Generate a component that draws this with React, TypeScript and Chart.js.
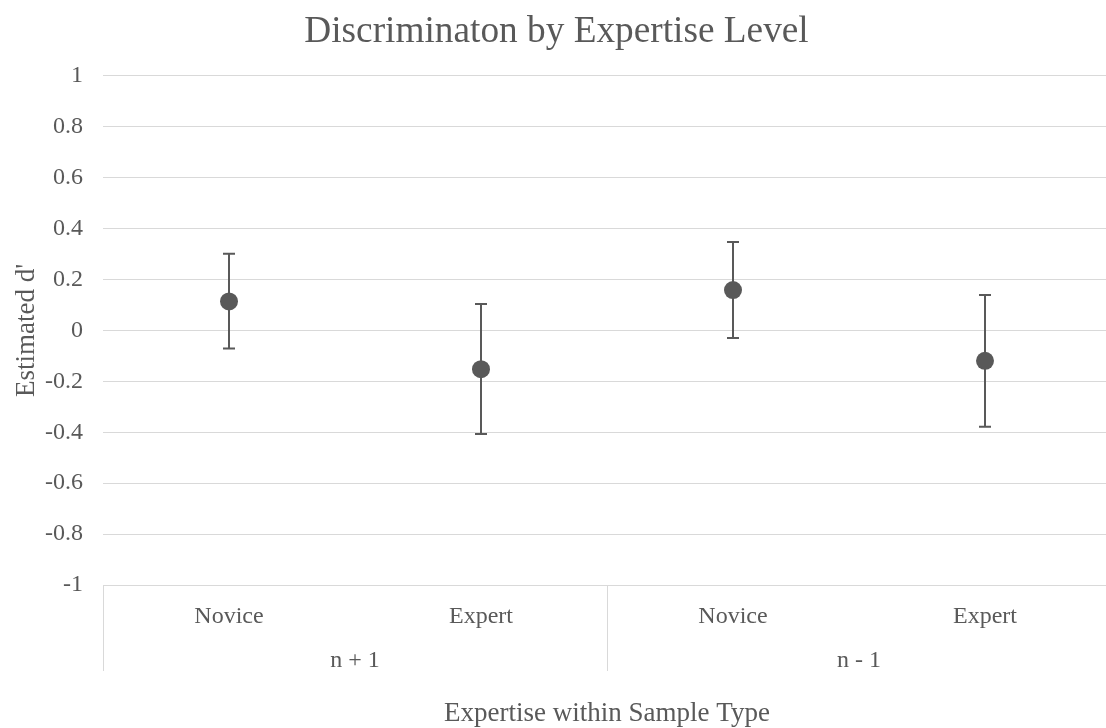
import React, { useEffect, useRef } from 'react';
import { Chart, registerables } from 'chart.js';

Chart.register(...registerables);

const categories = ['Novice', 'Expert', 'Novice', 'Expert'];
const groups = ['n + 1', 'n - 1'];
const groupSpans = [[0, 1], [2, 3]];
const estimates = [0.114, -0.152, 0.159, -0.119];
const upperBounds = [0.301, 0.104, 0.348, 0.139];
const lowerBounds = [-0.071, -0.407, -0.03, -0.378];

const TEXT = '#595959';
const GRID = '#d9d9d9';
const FONT = "'Liberation Serif', 'Times New Roman', serif";

const errorBars = {
  id: 'errorBars',
  beforeDatasetsDraw(chart: any) {
    const ctx = chart.ctx;
    const xs = chart.scales.x;
    const ys = chart.scales.y;
    ctx.save();
    ctx.strokeStyle = TEXT;
    ctx.lineWidth = 2;
    estimates.forEach((_, i) => {
      const px = xs.getPixelForValue(i);
      const top = ys.getPixelForValue(upperBounds[i]);
      const bot = ys.getPixelForValue(lowerBounds[i]);
      ctx.beginPath();
      ctx.moveTo(px, top);
      ctx.lineTo(px, bot);
      ctx.moveTo(px - 6, top);
      ctx.lineTo(px + 6, top);
      ctx.moveTo(px - 6, bot);
      ctx.lineTo(px + 6, bot);
      ctx.stroke();
    });
    ctx.restore();
  },
};

const groupAxis = {
  id: 'groupAxis',
  afterDraw(chart: any) {
    const ctx = chart.ctx;
    const xs = chart.scales.x;
    const { left, bottom } = chart.chartArea;
    const lineEnd = bottom + 86;
    ctx.save();
    ctx.strokeStyle = GRID;
    ctx.lineWidth = 1;
    const dividers = [left];
    for (let g = 0; g < groupSpans.length - 1; g++) {
      const a = xs.getPixelForValue(groupSpans[g][1]);
      const b = xs.getPixelForValue(groupSpans[g + 1][0]);
      dividers.push((a + b) / 2);
    }
    dividers.forEach((d) => {
      ctx.beginPath();
      ctx.moveTo(Math.round(d) + 0.5, bottom);
      ctx.lineTo(Math.round(d) + 0.5, lineEnd);
      ctx.stroke();
    });
    ctx.fillStyle = TEXT;
    ctx.font = `24px ${FONT}`;
    ctx.textAlign = 'center';
    ctx.textBaseline = 'middle';
    groups.forEach((g, i) => {
      const cx = (xs.getPixelForValue(groupSpans[i][0]) + xs.getPixelForValue(groupSpans[i][1])) / 2;
      ctx.fillText(g, cx, bottom + 76);
    });
    ctx.restore();
  },
};

export default function App() {
  const ref = useRef<HTMLCanvasElement | null>(null);

  useEffect(() => {
    if (!ref.current) return;
    const chart = new Chart(ref.current, {
      type: 'line',
      data: {
        labels: categories,
        datasets: [
          {
            label: 'Estimated d\'',
            data: estimates,
            showLine: false,
            pointRadius: 9,
            pointHoverRadius: 9,
            pointBackgroundColor: TEXT,
            pointBorderColor: TEXT,
            pointBorderWidth: 0,
            borderColor: TEXT,
            backgroundColor: TEXT,
          },
        ],
      },
      options: {
        responsive: false,
        animation: false,
        devicePixelRatio: 1,
        layout: { padding: { left: 0, right: 7, top: 0, bottom: 0 } },
        plugins: {
          legend: { display: false },
          tooltip: { enabled: false },
          title: {
            display: true,
            text: 'Discriminaton by Expertise Level',
            color: TEXT,
            font: { family: FONT, size: 37.3, weight: 'normal' },
            padding: { top: 10, bottom: 21.2 },
          },
        },
        scales: {
          x: {
            type: 'category',
            offset: true,
            grid: { display: false, drawTicks: false },
            border: { display: false },
            ticks: {
              color: TEXT,
              font: { family: FONT, size: 24 },
              padding: 17.5,
              maxRotation: 0,
              autoSkip: false,
            },
            title: {
              display: true,
              text: 'Expertise within Sample Type',
              color: TEXT,
              font: { family: FONT, size: 27 },
              padding: { top: 0, bottom: -2 },
            },
            afterFit: (s: any) => {
              s.height = 143;
            },
          },
          y: {
            min: -1,
            max: 1,
            grid: { color: GRID, lineWidth: 1, drawTicks: false },
            border: { display: false },
            ticks: {
              stepSize: 0.2,
              color: TEXT,
              font: { family: FONT, size: 24 },
              padding: 20,
              callback: (v: any) => {
                const n = parseFloat(Number(v).toFixed(2));
                return (Object.is(n, -0) ? 0 : n).toString();
              },
            },
            title: {
              display: true,
              text: 'Estimated d\'',
              color: TEXT,
              font: { family: FONT, size: 27 },
              padding: { top: 10.5, bottom: 0 },
            },
            afterFit: (s: any) => {
              s.width = 103;
            },
          },
        },
      },
      plugins: [errorBars, groupAxis],
    });
    return () => chart.destroy();
  }, []);

  return (
    <div style={{ position: 'fixed', left: 0, top: 0, width: 1106, height: 728, overflow: 'hidden', background: '#fff' }}>
      <canvas ref={ref} width={1120} height={728} style={{ display: 'block' }} />
    </div>
  );
}
